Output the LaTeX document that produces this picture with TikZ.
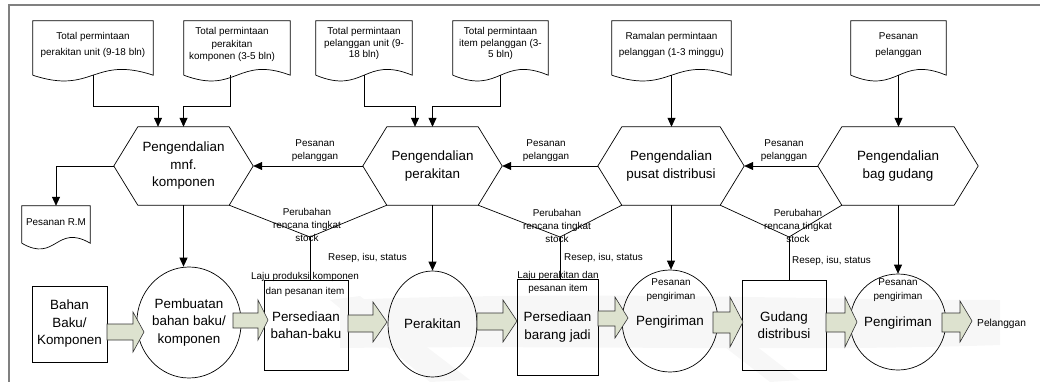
\documentclass[tikz,border=0pt]{standalone}
\usepackage{fontspec}
\setmainfont{Liberation Sans}
\usetikzlibrary{shapes.geometric,arrows.meta,calc}
\definecolor{arrfill}{RGB}{221,226,207}
\definecolor{framegray}{RGB}{128,128,128}
\newcommand\docoutline[1]{\draw[shapeline] (#1.south west) -- (#1.north west) -- (#1.north east) -- (#1.south east) .. controls ($(#1.south)+(0,-20)$) and ($(#1.south)+(0,20)$) .. (#1.south west);}
\newcommand\hexoutline[1]{\draw[shapeline] (#1.west) -- ($(#1.north west)+(24,0)$) -- ($(#1.north east)+(-24,0)$) -- (#1.east) -- ($(#1.south east)+(-24,0)$) -- ($(#1.south west)+(24,0)$) -- cycle;}
\newcommand\barrow[8]{\draw[blockarr] (#1,#4) -- (#2,#4) -- (#2,#6) -- (#3,#8) -- (#2,#7) -- (#2,#5) -- (#1,#5) -- cycle;}
\begin{document}
\begin{tikzpicture}[x=1pt,y=-1pt,
  shapeline/.style={draw=black, line width=0.7pt},
  arr/.style={draw=black, line width=0.7pt, -{Triangle[width=8pt,length=9pt]}},
  plain/.style={draw=black, line width=0.7pt},
  blockarr/.style={draw=black!80, line width=0.6pt, fill=arrfill},
  big/.style={font=\fontsize{13.4}{17.5}\selectfont, align=center},
  small/.style={font=\fontsize{9.9}{12.5}\selectfont, align=center, inner sep=0pt},
  docbox/.style={minimum height=54, inner sep=0pt},
  hexn/.style={big, minimum height=78, inner sep=0pt},
  rectn/.style={big, draw=black, line width=0.7pt, inner sep=0pt},
  elln/.style={big, ellipse, draw=black, line width=0.7pt, inner sep=0pt}]
\useasboundingbox (0,0) rectangle (1040,382);
% faint watermark
\fill[gray!6] (340,300) .. controls (600,290) and (800,300) .. (1000,300) -- (1000,345) .. controls (800,352) and (600,345) .. (340,348) -- cycle;
\fill[gray!6] (330,300) -- (360,296) -- (470,380) -- (430,382) -- cycle;
\fill[gray!6] (690,320) -- (720,318) -- (800,380) -- (770,382) -- cycle;
% frame
\draw[framegray, line width=2pt] (9,382) -- (9,5) -- (1040,5);

% documents
\node[docbox, minimum width=120] (d1) at (93,48) {};
\node[docbox, minimum width=106] (d2) at (237,48) {};
\node[docbox, minimum width=96] (d3) at (364,48) {};
\node[docbox, minimum width=95] (d4) at (500.5,48) {};
\node[docbox, minimum width=119] (d5) at (671.5,48) {};
\node[docbox, minimum width=95] (d6) at (898.5,48) {};
\node[minimum width=68, minimum height=37, inner sep=0pt] (rm) at (56,224.5) {};
\foreach \d in {d1,d2,d3,d4,d5,d6,rm}{\docoutline{\d}}
\node[small, font=\fontsize{9.9}{16}\selectfont] at (93,45) {Total permintaan\\perakitan unit (9-18 bln)};
\node[small, font=\fontsize{9.9}{12.3}\selectfont] at (232,44.5) {Total permintaan\\perakitan\\komponen (3-5 bln)};
\node[small, font=\fontsize{9.9}{11.7}\selectfont] at (364,43.5) {Total permintaan\\pelanggan unit (9-\\18 bln)};
\node[small, font=\fontsize{9.9}{11.7}\selectfont] at (500.5,43.5) {Total permintaan\\item pelanggan (3-\\5 bln)};
\node[small, font=\fontsize{9.9}{16}\selectfont] at (671.5,45) {Ramalan permintaan\\pelanggan (1-3 minggu)};
\node[small, font=\fontsize{9.9}{16}\selectfont] at (898.5,45) {Pesanan\\pelanggan};
\node[small] at (56,222) {Pesanan R.M};

% hexagons
\node[hexn, minimum width=139] (h1) at (183.5,166) {Pengendalian\\mnf.\\komponen};
\node[hexn, minimum width=139] (h2) at (432.5,166) {Pengendalian\\perakitan};
\node[hexn, minimum width=146] (h3) at (671,166) {Pengendalian\\pusat distribusi};
\node[hexn, minimum width=160] (h4) at (898,166) {Pengendalian\\bag gudang};
\foreach \h in {h1,h2,h3,h4}{\hexoutline{\h}}

% document connectors
\draw[arr] (d1.south) |- ($(h1.north)+(-25.5,-20)$) -- ($(h1.north)+(-25.5,0)$);
\draw[arr] ($(d2.south)+(-7,0)$) |- ($(h1.north)+(0,-20)$) -- (h1.north);
\draw[arr] (d3.south) |- ($(h2.north)+(-17.5,-20)$) -- ($(h2.north)+(-17.5,0)$);
\draw[arr] (d4.south) |- ($(h2.north)+(0,-20)$) -- (h2.north);
\draw[arr] (d5.south) -- (d5.south |- h3.north);
\draw[arr] (d6.south) -- (d6.south |- h4.north);
\draw[arr] (h1.west) -| (rm.north);

% horizontal arrows
\draw[arr] (h2.west) -- (h1.east) node[small, pos=0.5, xshift=7pt, yshift=15.5pt] {Pesanan\\pelanggan};
\draw[arr] (h3.west) -- (h2.east) node[small, pos=0.5, xshift=-4pt, yshift=15.5pt] {Pesanan\\pelanggan};
\draw[arr] (h4.west) -- (h3.east) node[small, pos=0.5, xshift=3pt, yshift=15.5pt] {Pesanan\\pelanggan};

% bottom row
\node[rectn, minimum width=75, minimum height=76] (b0) at (69.5,324) {Bahan\\Baku/\\Komponen};
\node[elln, minimum width=88, minimum height=111] (e1) at (189,322.5) {Pembuatan\\bahan baku/\\komponen};
\node[rectn, minimum width=84, minimum height=90] (b1) at (306,325) {Persediaan\\bahan-baku};
\node[elln, minimum width=89, minimum height=106] (e2) at (432.5,324) {Perakitan};
\node[rectn, minimum width=81, minimum height=96] (b2) at (557.5,327) {Persediaan\\barang jadi};
\node[elln, minimum width=86, minimum height=102] (e3) at (670,321) {\\[-6pt]Pengiriman};
\node[rectn, minimum width=84, minimum height=90] (b3) at (784,325) {Gudang\\distribusi};
\node[elln, minimum width=88, minimum height=96] (e4) at (898,322) {\\[-6pt]Pengiriman};
\node[small, anchor=west, font=\fontsize{10.2}{12}\selectfont] (pel) at (977,324) {Pelanggan};

% V connectors
\coordinate (v1) at (310,237);
\coordinate (v2) at (560,237);
\coordinate (v3) at (789,237);
\draw[plain] ($(h1.south east)+(-24,0)$) -- (v1) -- ($(h2.south west)+(24,0)$);
\draw[plain] ($(h2.south east)+(-24,0)$) -- (v2) -- ($(h3.south west)+(24,0)$);
\draw[plain] ($(h3.south east)+(-24,0)$) -- (v3) -- ($(h4.south west)+(24,0)$);
\draw[plain] (v1) -- (v1 |- b1.north);
\draw[plain] (v2) -- (v2 |- b2.north);
\draw[plain] (v3) -- (v3 |- b3.north);
\node[small, font=\fontsize{9.9}{13}\selectfont] at (307,225) {Perubahan\\rencana tingkat\\stock};
\node[small, font=\fontsize{9.9}{13}\selectfont] at (557,225.5) {Perubahan\\rencana tingkat\\stock};
\node[small, font=\fontsize{9.9}{13}\selectfont] at (798,225.5) {Perubahan\\rencana tingkat\\stock};
\node[small, anchor=west] at (328,258) {Resep, isu, status};
\node[small, anchor=west] at (564,258) {Resep, isu, status};
\node[small, anchor=west] at (792,261) {Resep, isu, status};

% down arrows
\draw[arr] (h1.south) -- (h1.south |- e1.north);
\draw[arr] (h2.south) -- (h2.south |- e2.north);
\draw[arr] (h3.south) -- (h3.south |- e3.north);
\draw[arr] (h4.south) -- (h4.south |- e4.north);

% labels in bottom shapes
\node[small, font=\fontsize{9.9}{14.5}\selectfont] at (305,284.5) {Laju produksi komponen\\dan pesanan item};
\node[small, font=\fontsize{9.9}{13}\selectfont] at (558,282.5) {Laju perakitan dan\\pesanan item};
\node[small, font=\fontsize{9.9}{14}\selectfont] at (671,290) {Pesanan\\pengiriman};
\node[small, font=\fontsize{9.9}{14}\selectfont] at (898,290) {Pesanan\\pengiriman};

% block arrows
\barrow{107}{133}{144}{324}{340}{312}{352}{332}
\barrow{233}{258}{268}{313}{328}{300}{340}{320}
\barrow{348}{373}{387}{315}{332}{302}{342}{322}
\barrow{477}{503}{517}{313}{330}{300}{342}{321}
\barrow{598}{615}{628}{311}{326}{297}{338}{318}
\barrow{713}{730}{743}{312}{333}{297}{347}{322}
\barrow{826}{845}{857}{313}{332}{297}{347}{322}
\barrow{942}{960}{972}{313}{332}{301}{342}{321}
\end{tikzpicture}
\end{document}
